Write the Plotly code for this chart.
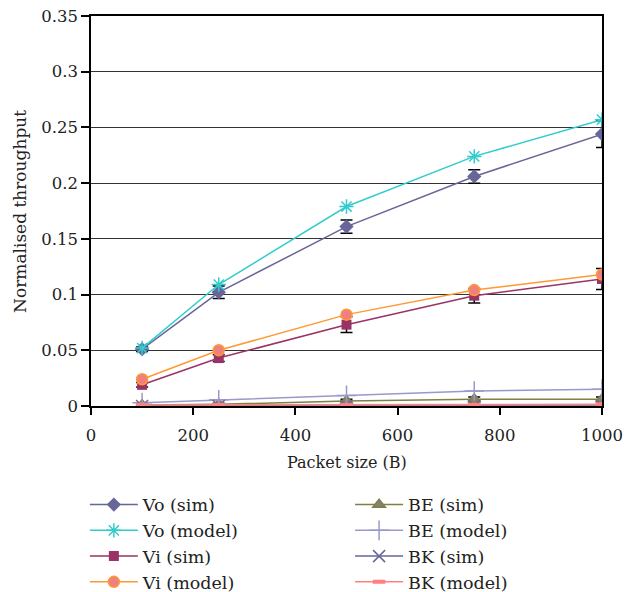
import plotly.graph_objects as go

packet_size = [100, 250, 500, 750, 1000]

vo_sim = [0.051, 0.102, 0.161, 0.206, 0.244]
vo_sim_err = [0.002, 0.0056, 0.006, 0.006, 0.012]
vo_model = [0.052, 0.109, 0.179, 0.224, 0.257]

vi_sim = [0.019, 0.043, 0.073, 0.099, 0.114]
vi_sim_err = [0.002, 0.003, 0.007, 0.0065, 0.0095]
vi_model = [0.024, 0.050, 0.082, 0.104, 0.118]

be_sim = [0.001, 0.0015, 0.0045, 0.006, 0.006]
be_sim_err = [0.001, 0.001, 0.0015, 0.002, 0.002]
be_model = [0.003, 0.0055, 0.0095, 0.0135, 0.015]

bk_sim = [0.0, 0.0, 0.0, 0.0, 0.0]
bk_model = [0.001, 0.001, 0.001, 0.001, 0.0015]

x_title = "Packet size (B)"
y_title = "Normalised throughput"

FONT = "DejaVu Serif"

fig = go.Figure()

def add(name, y, color, marker, legend, err=None):
    kw = {}
    if err is not None:
        kw["error_y"] = dict(type="data", array=err, visible=True, color="black",
                             thickness=1.5, width=6)
    fig.add_trace(go.Scatter(
        x=packet_size, y=y, name=name, mode="lines+markers",
        line=dict(color=color, width=1.5), marker=marker, legend=legend, **kw))

add("Vo (sim)", vo_sim, "#666699",
    dict(symbol="diamond", size=11, color="#666699"), "legend", vo_sim_err)
add("Vo (model)", vo_model, "#33CCCC",
    dict(symbol="asterisk-open", size=12, line=dict(color="#33CCCC", width=1.5)), "legend")
add("Vi (sim)", vi_sim, "#993366",
    dict(symbol="square", size=10, color="#993366"), "legend", vi_sim_err)
add("Vi (model)", vi_model, "#FF9933",
    dict(symbol="circle", size=11, color="#F08080", line=dict(color="#FF9933", width=1.5)), "legend")
add("BE (sim)", be_sim, "#808040",
    dict(symbol="triangle-up", size=11, color="#808080", line=dict(color="#808040", width=1.5)), "legend2", be_sim_err)
add("BE (model)", be_model, "#9999CC",
    dict(symbol="cross-thin-open", size=14, line=dict(color="#9999CC", width=1.5)), "legend2")
add("BK (sim)", bk_sim, "#666699",
    dict(symbol="x-thin-open", size=12, line=dict(color="#666699", width=1.5)), "legend2")
add("BK (model)", bk_model, "#FF8080",
    dict(symbol="line-ew-open", size=9, line=dict(color="#FF8080", width=4)), "legend2")

legend_common = dict(font=dict(family=FONT, size=17.5, color="#222"),
                     bgcolor="rgba(0,0,0,0)", orientation="v",
                     xanchor="left", yanchor="top", tracegroupgap=0,
                     itemwidth=48)

fig.update_layout(
    width=633, height=592,
    margin=dict(l=91, r=31, t=16, b=186, autoexpand=False),
    paper_bgcolor="white", plot_bgcolor="white",
    font=dict(family=FONT, size=16, color="#222"),
    showlegend=True,
    legend=dict(x=-0.012, y=-0.207, **legend_common),
    legend2=dict(x=0.507, y=-0.207, **legend_common),
    xaxis=dict(range=[0, 1000], dtick=200, tick0=0, automargin=False,
               showline=True, linecolor="black", linewidth=1.5, mirror=True,
               ticks="outside", ticklen=7, tickcolor="black", tickwidth=1.5,
               ticklabelstandoff=6,
               showgrid=False, zeroline=False, tickfont=dict(size=16.5)),
    yaxis=dict(range=[0, 0.35], dtick=0.05, tick0=0, automargin=False,
               showline=True, linecolor="black", linewidth=1.5, mirror=True,
               ticks="outside", ticklen=8, tickcolor="black", tickwidth=1.5,
               showgrid=True, gridcolor="#333333", gridwidth=1, zeroline=False,
               tickfont=dict(size=16.5)),
    annotations=[
        dict(text=x_title, xref="paper", yref="paper", x=0.5, y=-0.146,
             xanchor="center", yanchor="middle", showarrow=False,
             font=dict(family=FONT, size=16, color="#222")),
        dict(text=y_title, xref="paper", yref="paper", x=-0.139, y=0.5,
             xanchor="center", yanchor="middle", showarrow=False, textangle=-90,
             font=dict(family=FONT, size=17, color="#222")),
    ],
)

fig.write_html("out.html", config={"displayModeBar": False},
               post_script="document.body.style.margin='0';")
